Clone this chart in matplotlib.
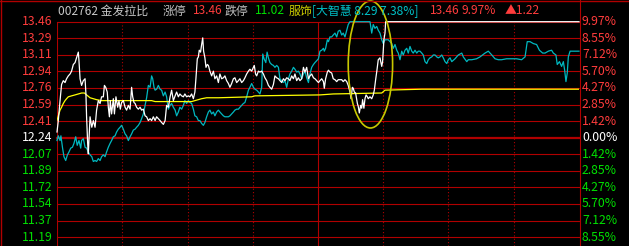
import matplotlib
matplotlib.use("Agg")
import matplotlib.pyplot as plt
from matplotlib.lines import Line2D
from matplotlib.patches import Ellipse

plt.rcParams['font.family'] = ['Noto Sans CJK SC', 'DejaVu Sans']

# reference prices
prev_close = 12.24
limit_up = 13.46
limit_down = 11.02

left_labels = ['13.46', '13.29', '13.11', '12.94', '12.76', '12.59', '12.41',
               '12.24', '12.07', '11.89', '11.72', '11.54', '11.37', '11.19']
right_labels = ['9.97%', '8.55%', '7.12%', '5.70%', '4.27%', '2.85%', '1.42%',
                '0.00%', '1.42%', '2.85%', '4.27%', '5.70%', '7.12%', '8.55%']

# minutes since 9:30 (0..240), price of 002762
price_t = [0, 0.6, 1.4, 2.1, 2.9, 3.7, 4.4, 5.2, 6.0, 6.7,
           7.5, 8.3, 9.0, 9.8, 10.1, 10.6, 11.3, 12.1, 12.9, 13.3,
           13.6, 14.1, 14.4, 14.9, 15.2, 16.0, 16.7, 17.5, 18.2, 19.0,
           19.8, 20.5, 21.3, 21.8, 22.4, 23.1, 23.6, 24.1, 24.5, 25.1,
           25.9, 26.4, 27.1, 27.9, 28.5, 29.1, 29.7, 30.5, 31.3, 32.0,
           32.8, 33.6, 34.3, 34.8, 35.4, 35.9, 36.6, 37.4, 38.2, 38.9,
           39.7, 40.5, 41.2, 42.0, 42.8, 43.5, 44.3, 45.1, 45.8, 46.6,
           47.4, 48.1, 48.9, 49.7, 50.4, 51.2, 52.0, 52.7, 53.5, 54.3,
           55.0, 55.8, 56.5, 57.3, 58.1, 58.8, 59.6, 60.4, 61.1, 61.9,
           62.7, 63.4, 63.9, 64.5, 65.0, 65.4, 66.0, 66.5, 67.0, 67.4,
           68.0, 68.5, 69.1, 69.6, 70.3, 71.1, 71.9, 72.6, 73.4, 74.2,
           74.9, 75.7, 76.5, 77.2, 78.0, 78.8, 79.5, 80.3, 81.1, 81.8,
           82.6, 83.4, 84.1, 84.9, 85.7, 86.4, 87.2, 88.0, 88.7, 89.5,
           90.3, 90.7, 91.3, 91.8, 92.6, 93.3, 94.1, 94.9, 95.6, 96.4,
           97.2, 97.9, 98.7, 99.5, 100.2, 101.0, 101.8, 102.5, 103.3, 104.1,
           104.8, 105.6, 106.4, 107.1, 107.9, 108.7, 109.4, 110.2, 111.0, 111.7,
           112.5, 113.3, 114.0, 114.8, 115.6, 116.3, 117.1, 117.9, 118.6, 119.4,
           120.2, 120.9, 121.7, 122.5, 122.9, 123.5, 124.3, 124.8, 125.5, 126.3,
           127.0, 127.8, 128.6, 129.3, 130.1, 130.9, 131.6, 132.4, 133.2, 133.9,
           134.7, 135.2, 135.8, 136.2, 136.7, 137.3, 138.1, 138.5, 139.0, 139.6,
           140.1, 140.5, 141.1, 141.6, 142.1, 142.7, 143.1, 143.9, 144.7, 145.4,
           145.9, 146.5, 147.1, 147.7, 148.5, 149.3, 149.7, 150.3, 150.8, 151.1,
           240]
price_v = [12.30, 12.42, 12.63, 12.80, 12.84, 12.82, 12.86, 12.89, 12.91, 12.94,
           13.01, 13.03, 13.08, 13.14, 13.05, 12.86, 12.79, 12.84, 12.86, 12.70,
           12.46, 12.18, 12.07, 12.32, 12.46, 12.35, 12.42, 12.35, 12.53, 12.63,
           12.60, 12.67, 12.67, 12.79, 12.77, 12.72, 12.56, 12.46, 12.63, 12.49,
           12.65, 12.49, 12.67, 12.56, 12.63, 12.54, 12.61, 12.63, 12.56, 12.53,
           12.58, 12.54, 12.77, 12.67, 12.61, 12.60, 12.56, 12.54, 12.56, 12.53,
           12.54, 12.47, 12.46, 12.42, 12.44, 12.42, 12.46, 12.42, 12.46, 12.44,
           12.42, 12.40, 12.38, 12.42, 12.58, 12.56, 12.67, 12.74, 12.63, 12.68,
           12.72, 12.67, 12.70, 12.68, 12.67, 12.70, 12.67, 12.68, 12.67, 12.70,
           12.65, 12.72, 12.87, 13.07, 13.09, 13.16, 13.14, 13.22, 13.29, 13.15,
           13.08, 12.98, 13.01, 13.00, 12.94, 12.89, 12.94, 12.86, 12.89, 12.82,
           12.91, 12.86, 12.87, 12.89, 12.84, 12.81, 12.77, 12.81, 12.86, 12.87,
           12.82, 12.84, 12.86, 12.82, 12.84, 12.87, 12.91, 12.94, 12.96, 12.94,
           12.98, 13.00, 12.91, 12.89, 12.94, 12.93, 12.94, 12.91, 12.87, 12.84,
           12.79, 12.77, 12.75, 12.80, 12.89, 12.87, 12.86, 12.84, 12.82, 12.86,
           12.84, 12.87, 12.86, 12.84, 12.89, 12.86, 12.91, 12.84, 12.87, 12.84,
           12.86, 12.98, 12.93, 12.98, 12.86, 12.89, 12.91, 12.87, 12.86, 12.84,
           12.82, 12.84, 12.86, 12.83, 12.76, 12.86, 12.93, 12.95, 12.93, 12.92,
           12.86, 12.85, 12.83, 12.85, 12.85, 12.85, 12.83, 12.85, 12.83, 12.79,
           12.72, 12.65, 12.77, 12.76, 12.72, 12.71, 12.60, 12.57, 12.50, 12.58,
           12.55, 12.64, 12.55, 12.65, 12.69, 12.67, 12.65, 12.67, 12.65, 12.69,
           12.74, 12.85, 12.95, 13.06, 13.08, 12.99, 13.04, 13.27, 13.34, 13.46,
           13.46]

# average price line
avg_t = [0, 0.6, 1.4, 2.1, 2.9, 3.7, 4.4, 5.2, 6.7, 8.3,
         9.8, 11.3, 12.6, 13.6, 15.2, 16.7, 18.2, 20.5, 43.5, 45.1,
         61.9, 63.4, 66.5, 68.8, 74.2, 89.5, 91.0, 120.9, 127.0, 149.3,
         150.8, 167.7, 240]
avg_v = [12.42, 12.47, 12.53, 12.56, 12.60, 12.63, 12.65, 12.67, 12.68, 12.69,
         12.70, 12.71, 12.71, 12.69, 12.66, 12.65, 12.64, 12.63, 12.63, 12.62,
         12.62, 12.63, 12.65, 12.66, 12.66, 12.67, 12.68, 12.69, 12.70, 12.71,
         12.74, 12.75, 12.75]

# comparison line (服饰 sector), drawn on the price scale
peer_t = [0, 0.6, 1.4, 1.8, 2.5, 3.2, 4.0, 4.8, 5.5, 6.3,
          7.1, 7.8, 8.6, 9.3, 10.1, 10.9, 11.3, 12.1, 12.9, 13.6,
          14.4, 15.2, 16.0, 16.7, 17.5, 18.2, 19.0, 19.8, 20.5, 21.3,
          22.1, 22.8, 23.6, 24.4, 25.1, 25.9, 26.7, 27.4, 28.2, 29.0,
          29.7, 30.5, 31.3, 32.0, 32.8, 33.6, 34.3, 35.1, 35.9, 36.6,
          37.4, 38.2, 38.9, 39.7, 40.5, 41.2, 42.0, 42.8, 43.5, 44.0,
          44.6, 45.1, 45.8, 46.6, 47.4, 48.1, 48.9, 49.7, 50.4, 51.2,
          52.0, 52.7, 53.5, 54.3, 55.0, 55.8, 56.5, 57.3, 58.1, 58.8,
          59.6, 60.4, 61.1, 61.9, 62.7, 63.4, 64.2, 65.0, 65.7, 66.5,
          67.3, 68.0, 68.8, 69.6, 70.3, 71.1, 71.9, 72.6, 73.4, 74.2,
          74.9, 75.7, 76.5, 77.2, 78.0, 78.8, 79.5, 80.3, 81.1, 81.8,
          82.6, 83.4, 84.1, 84.9, 85.7, 86.4, 87.2, 88.0, 88.7, 89.5,
          90.3, 91.0, 91.8, 92.6, 93.3, 94.1, 94.6, 95.2, 96.0, 96.6,
          97.2, 97.9, 98.7, 99.5, 100.2, 101.0, 101.8, 102.5, 103.3, 104.1,
          104.8, 105.6, 106.4, 107.1, 107.9, 108.7, 109.4, 110.2, 111.0, 111.7,
          112.5, 113.3, 114.0, 114.8, 115.6, 116.3, 117.1, 117.9, 118.6, 119.4,
          120.2, 120.9, 121.7, 122.5, 122.9, 123.5, 124.3, 124.8, 125.5, 126.3,
          127.0, 127.8, 128.6, 129.3, 130.1, 130.9, 131.6, 132.4, 133.2, 133.9,
          134.7, 143.9, 144.7, 145.4, 146.2, 147.0, 147.7, 148.5, 149.3, 150.0,
          150.8, 152.3, 153.1, 153.9, 154.6, 155.4, 156.2, 156.9, 157.7, 158.5,
          159.2, 160.0, 160.8, 161.5, 162.3, 163.1, 163.8, 164.6, 165.4, 166.1,
          166.9, 167.7, 168.4, 169.2, 170.0, 170.7, 171.5, 172.3, 173.0, 173.8,
          174.6, 175.3, 176.1, 176.9, 177.6, 178.4, 179.2, 179.9, 180.7, 181.5,
          183.0, 184.5, 186.1, 186.8, 188.4, 189.1, 190.7, 192.9, 194.5, 196.8,
          198.3, 199.9, 201.4, 202.9, 204.4, 206.7, 209.0, 211.3, 213.6, 215.2,
          216.2, 217.5, 219.0, 220.5, 221.8, 223.3, 224.4, 225.9, 227.4, 228.2,
          229.4, 230.0, 231.0, 232.0, 232.8, 233.4, 234.0, 234.6, 235.1, 235.9,
          237.4, 240]
peer_v = [12.21, 12.26, 12.21, 12.26, 12.14, 12.04, 12.00, 12.06, 12.09, 12.13,
          12.14, 12.18, 12.25, 12.16, 12.21, 12.13, 12.21, 12.23, 12.14, 12.13,
          12.09, 12.06, 12.04, 11.99, 12.00, 11.99, 12.02, 12.00, 12.04, 12.06,
          12.04, 12.09, 12.14, 12.18, 12.21, 12.25, 12.26, 12.30, 12.33, 12.35,
          12.37, 12.33, 12.28, 12.26, 12.21, 12.25, 12.28, 12.32, 12.33, 12.35,
          12.37, 12.40, 12.44, 12.49, 12.58, 12.66, 12.79, 12.77, 12.89, 12.86,
          12.77, 12.74, 12.75, 12.79, 12.75, 12.74, 12.68, 12.72, 12.67, 12.54,
          12.58, 12.60, 12.56, 12.53, 12.47, 12.51, 12.56, 12.54, 12.58, 12.63,
          12.60, 12.63, 12.61, 12.60, 12.54, 12.47, 12.46, 12.42, 12.42, 12.39,
          12.37, 12.40, 12.46, 12.51, 12.53, 12.49, 12.51, 12.47, 12.51, 12.53,
          12.51, 12.49, 12.47, 12.46, 12.46, 12.46, 12.47, 12.49, 12.51, 12.53,
          12.54, 12.54, 12.56, 12.58, 12.60, 12.61, 12.67, 12.74, 12.77, 12.81,
          12.77, 12.75, 12.74, 12.72, 12.70, 12.77, 13.12, 13.07, 13.03, 13.14,
          13.08, 13.03, 13.01, 13.00, 12.98, 13.00, 12.98, 12.86, 12.84, 12.82,
          12.84, 12.77, 12.86, 12.91, 12.94, 12.98, 12.96, 12.93, 12.94, 12.91,
          12.86, 12.91, 12.94, 12.87, 12.82, 12.91, 12.98, 13.01, 13.03, 13.05,
          13.07, 13.15, 13.16, 13.18, 13.15, 13.18, 13.27, 13.25, 13.30, 13.30,
          13.32, 13.34, 13.30, 13.36, 13.37, 13.32, 13.34, 13.30, 13.37, 13.43,
          13.46, 13.46, 13.34, 13.43, 13.39, 13.41, 13.37, 13.34, 13.27, 13.23,
          13.27, 13.27, 13.25, 13.23, 13.18, 13.22, 13.16, 13.13, 13.06, 13.15,
          13.11, 13.16, 13.18, 13.13, 13.20, 13.15, 13.13, 13.16, 13.13, 13.15,
          13.15, 13.13, 13.11, 13.04, 13.02, 13.06, 13.08, 13.09, 13.11, 13.11,
          13.09, 13.08, 13.09, 13.11, 13.08, 13.04, 13.02, 13.06, 13.08, 13.04,
          13.07, 13.11, 13.13, 13.09, 13.04, 13.06, 13.06, 13.07, 13.09, 13.13,
          13.15, 13.11, 13.07, 13.06, 13.06, 13.07, 13.07, 13.07, 13.06, 13.09,
          13.25, 13.25, 13.23, 13.22, 13.16, 13.13, 13.13, 13.15, 13.16, 13.13,
          13.11, 13.01, 13.04, 12.99, 13.04, 12.95, 12.83, 12.92, 13.09, 13.15,
          13.15, 13.15]

RED = '#ff3c3c'
GREEN = '#00e000'
GRID = '#b00000'
W, H = 629, 246

fig = plt.figure(figsize=(W / 100, H / 100), dpi=100, facecolor='black')
# plot area: x 57..579 px, top gridline (limit up) at y=21.7 px, runs off the bottom
ax = fig.add_axes([57 / W, 0, 522 / W, (H - 21.7) / H])
ax.set_facecolor('black')
step = (limit_up - prev_close) / 7
levels = [prev_close + step * k for k in range(7, -7, -1)]
bottom = prev_close - step * (H - 137.7) / 16.57
ax.set_xlim(0, 240)
ax.set_ylim(bottom, limit_up)
ax.set_xticks([])
ax.set_yticks([])
for s in ax.spines.values():
    s.set_visible(False)

for lv in levels:
    thick = abs(lv - prev_close) < 1e-6
    ax.axhline(lv, color=GRID, lw=1.6 if thick else 0.8, zorder=1, clip_on=False)
for m in [30, 60, 90, 150, 180, 210]:
    ax.axvline(m, color=GRID, lw=0.8, ls=(0, (1, 2)), zorder=1)
ax.axvline(120, color=GRID, lw=0.8, zorder=1)
ax.axvline(0, color=GRID, lw=0.8, zorder=1)

ax.plot(peer_t, peer_v, color='#00b8c0', lw=0.9, zorder=3, clip_on=False)
ax.plot(avg_t, avg_v, color='#ffff00', lw=0.9, zorder=3)
ax.plot(price_t, price_v, color='white', lw=0.9, zorder=4, clip_on=False)

ax.add_patch(Ellipse((144.1, 13.01), 20.4, 1.336, fill=False, ec='#c8c800',
                     lw=1.2, zorder=6, clip_on=False))

# price / percent labels
for i, lv in enumerate(levels):
    y = ax.transData.transform((0, lv))[1] / H
    c = RED if lv > prev_close + 1e-6 else ('white' if abs(lv - prev_close) < 1e-6 else GREEN)
    fig.text(52.5 / W, y, left_labels[i], color=c, fontsize=8.8, ha='right', va='center')
    fig.text(582 / W, y, right_labels[i], color=c, fontsize=8.8, ha='left', va='center')

# outer frame lines
fig.add_artist(Line2D([579.5 / W, 579.5 / W], [0, 1], color=GRID, lw=0.8))
fig.add_artist(Line2D([0.8 / W, 0.8 / W], [0, 1], color=GRID, lw=1.0))
fig.add_artist(Line2D([0, 1], [1 - 0.6 / H, 1 - 0.6 / H], color=GRID, lw=1.0))

# header line
ty = 1 - 11 / H
header = [
    (58, '002762 金发拉比', '#c8c8c8'),
    (163, '涨停', '#c0c0c0'),
    (193, '13.46', RED),
    (225, '跌停', '#c0c0c0'),
    (255, '11.02', GREEN),
    (289, '服饰', '#d0d000'),
    (312, '[大智慧 8.29 7.38%]', '#00c0c8'),
    (430, '13.46', RED),
    (462, '9.97%', RED),
    (505, '▲1.22', RED),
]
for x, s, c in header:
    fig.text(x / W, ty, s, color=c, fontsize=8.6, ha='left', va='center')

fig.savefig('out.png', dpi=100, facecolor='black')
